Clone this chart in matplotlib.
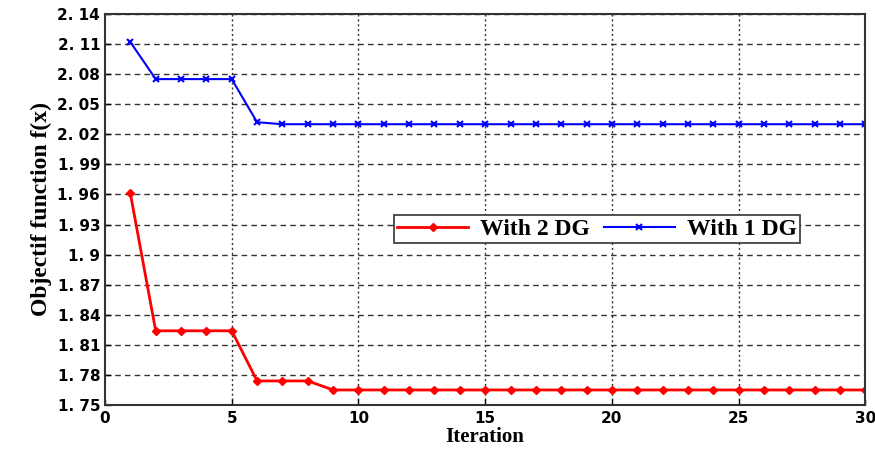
import matplotlib
matplotlib.use("Agg")
import matplotlib.pyplot as plt
import numpy as np

iterations = list(range(1, 31))
with_2dg = [1.961, 1.824, 1.824, 1.824, 1.824, 1.774, 1.774, 1.774] + [1.765] * 22
with_1dg = [2.112, 2.075, 2.075, 2.075, 2.075, 2.032] + [2.030] * 24
yticks = [1.75, 1.78, 1.81, 1.84, 1.87, 1.90, 1.93, 1.96, 1.99, 2.02, 2.05, 2.08, 2.11, 2.14]
ytick_labels = ["1. 75", "1. 78", "1. 81", "1. 84", "1. 87", "1. 9", "1. 93", "1. 96",
                "1. 99", "2. 02", "2. 05", "2. 08", "2. 11", "2. 14"]
xticks = [0, 5, 10, 15, 20, 25, 30]

fig = plt.figure(figsize=(8.75, 4.49), dpi=100)
ax = fig.add_axes([0.12, 0.098, 0.869, 0.871])

ax.plot(iterations, with_2dg, color="red", lw=2, marker="D", ms=4, label="With 2 DG")
ax.plot(iterations, with_1dg, color="blue", lw=1.5, marker="x", ms=4, mew=1.5, label="With 1 DG")

ax.set_xlim(0, 30)
ax.set_ylim(1.75, 2.14)
ax.set_yticks(yticks)
ax.set_yticklabels(ytick_labels, fontweight="bold", fontsize=11, family="DejaVu Sans")
ax.set_xticks(xticks)
ax.set_xticklabels([str(x) for x in xticks], fontweight="bold", fontsize=11, family="DejaVu Sans")
ax.tick_params(direction="in", length=4, width=1)
ax.tick_params(axis="x", pad=4)

for y in yticks:
    ax.axhline(y, color="#333333", ls=(0, (4, 3)), lw=1, zorder=0)
for x in xticks[1:-1]:
    ax.axvline(x, color="#333333", ls=(0, (1.5, 2)), lw=1, zorder=0)

for s in ax.spines.values():
    s.set_linewidth(1.5)
    s.set_color("#333333")

ax.set_xlabel("Iteration", fontsize=15, fontweight="bold", family="Liberation Serif", labelpad=1)
ax.set_ylabel("Objectif function f(x)", fontsize=17, fontweight="bold", family="Liberation Serif", labelpad=4)

leg = ax.legend(ncol=2, loc="center", bbox_to_anchor=(0.647, 0.45), fancybox=False,
                framealpha=1, edgecolor="#333333", prop={"family": "Liberation Serif", "weight": "bold", "size": 17},
                handlelength=3.0, columnspacing=0.6, borderpad=0.15, handletextpad=0.5)
leg.get_frame().set_linewidth(1.2)

fig.savefig("out.png", dpi=100)
